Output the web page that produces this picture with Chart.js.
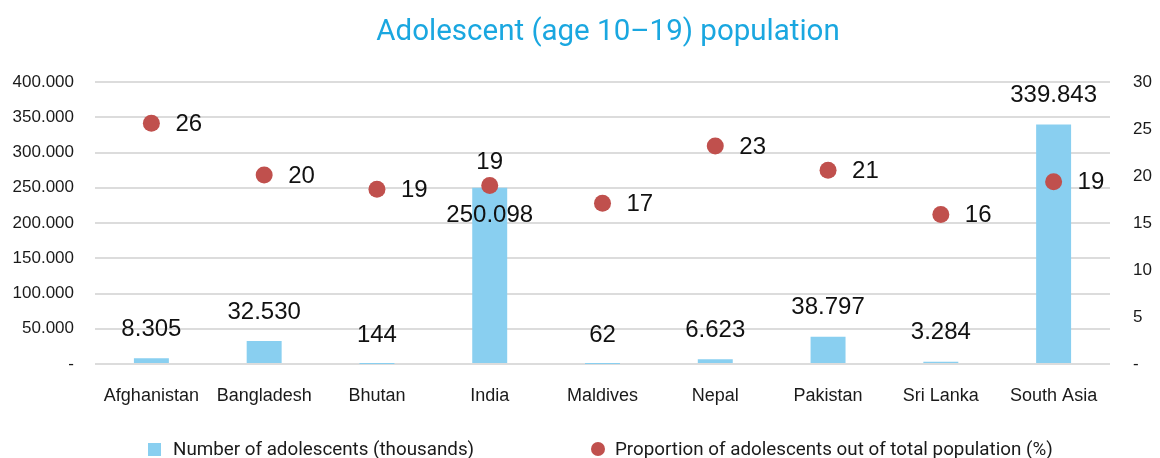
<!DOCTYPE html>
<html>
<head>
<meta charset="utf-8">
<script src="https://cdn.jsdelivr.net/npm/chart.js@4.4.0/dist/chart.umd.min.js"></script>
<style>
  body { margin: 0; background: #fff; }
  #wrap { position: relative; width: 1160px; height: 458px; overflow: hidden; }
  #title {
    position: absolute; left: 358px; top: 13px; width: 500px; text-align: center;
    font-family: Roboto, "Liberation Sans", sans-serif; font-size: 29.5px; color: #1aa7e0;
    white-space: nowrap;
  }
  .leg {
    position: absolute; top: 438px; font-family: Roboto, sans-serif;
    font-size: 18.8px; color: #1a1a1a; white-space: nowrap;
  }
  .leg i { position: absolute; display: block; }
</style>
</head>
<body>
<div id="wrap">
  <canvas id="chart" width="1160" height="458"></canvas>
  <div id="title">Adolescent (age 10–19) population</div>
  <div class="leg" style="left:173px">Number of adolescents (thousands)</div>
  <div class="leg" style="left:615px">Proportion of adolescents out of total population (%)</div>
</div>
<script>
var countries = ['Afghanistan', 'Bangladesh', 'Bhutan', 'India', 'Maldives', 'Nepal', 'Pakistan', 'Sri Lanka', 'South Asia'];
var adolescents = [8305, 32530, 144, 250098, 62, 6623, 38797, 3284, 339843];
var proportion = [25.6, 20.1, 18.6, 19.0, 17.1, 23.2, 20.6, 15.9, 19.4];
var leftTicks = ['-', '50.000', '100.000', '150.000', '200.000', '250.000', '300.000', '350.000', '400.000'];
var rightTicks = ['-', '5', '10', '15', '20', '25', '30'];

var barColor = '#89cff0';
var dotColor = '#c0504d';

function dots(n) {
    return String(n).replace(/\B(?=(\d{3})+(?!\d))/g, '.');
}

// legend markers
document.querySelectorAll('.leg').forEach(function (el, i) {
    var m = document.createElement('i');
    if (i === 0) {
        m.style.cssText = 'left:-25px;top:5px;width:13px;height:13px;background:' + barColor;
    } else {
        m.style.cssText = 'left:-24px;top:4px;width:14px;height:14px;border-radius:50%;background:' + dotColor;
    }
    el.appendChild(m);
});

var valueLabels = {
    id: 'valueLabels',
    afterDatasetsDraw: function (chart) {
        var ctx = chart.ctx;
        var bars = chart.getDatasetMeta(0).data;
        var pts = chart.getDatasetMeta(1).data;
        ctx.save();
        ctx.fillStyle = '#111';
        ctx.font = '24px "Liberation Sans", Arial, sans-serif';
        ctx.textBaseline = 'middle';
        bars.forEach(function (b, i) {
            var p = pts[i];
            // when the dot sits on the bar top, put the bar label inside and the dot label above
            var clash = Math.abs(p.y - b.y) < 30;
            ctx.textAlign = 'center';
            ctx.fillText(dots(adolescents[i]), b.x, clash ? b.y + 28 : b.y - 29);
            if (clash) {
                ctx.fillText(Math.round(proportion[i]), p.x, p.y - 23);
            } else {
                ctx.textAlign = 'left';
                ctx.fillText(Math.round(proportion[i]), p.x + 24, p.y + 1);
            }
        });
        ctx.restore();
    }
};

new Chart(document.getElementById('chart'), {
    type: 'bar',
    data: {
        labels: countries,
        datasets: [{
            label: 'Number of adolescents (thousands)',
            data: adolescents,
            backgroundColor: barColor,
            barPercentage: 0.31,
            categoryPercentage: 1,
            yAxisID: 'y',
            order: 2
        }, {
            type: 'line',
            label: 'Proportion of adolescents out of total population (%)',
            data: proportion,
            showLine: false,
            pointRadius: 8.5,
            pointHoverRadius: 8.5,
            pointBackgroundColor: dotColor,
            pointBorderWidth: 0,
            yAxisID: 'y1',
            order: 1
        }]
    },
    options: {
        responsive: false,
        animation: false,
        layout: { padding: { top: 82, bottom: 40, left: 0, right: 0 } },
        plugins: {
            legend: { display: false },
            title: { display: false },
            tooltip: { enabled: false }
        },
        scales: {
            x: {
                grid: { display: false },
                border: { display: false },
                ticks: {
                    color: '#1a1a1a',
                    font: { family: '"Liberation Sans", Arial, sans-serif', size: 18 },
                    padding: 13,
                    maxRotation: 0
                },
                afterFit: function (s) { s.height = 54; }
            },
            y: {
                position: 'left',
                min: 0,
                max: 400000,
                grid: { color: '#dcdcdc', lineWidth: 2, drawTicks: false },
                border: { display: false },
                ticks: {
                    stepSize: 50000,
                    padding: 21,
                    color: '#1a1a1a',
                    font: { family: '"Liberation Sans", Arial, sans-serif', size: 17 },
                    callback: function (v, i) { return leftTicks[i]; }
                },
                afterFit: function (s) { s.width = 95; }
            },
            y1: {
                position: 'right',
                min: 0,
                max: 30,
                grid: { display: false, drawTicks: false },
                border: { display: false },
                ticks: {
                    stepSize: 5,
                    padding: 23,
                    color: '#1a1a1a',
                    font: { family: '"Liberation Sans", Arial, sans-serif', size: 17 },
                    callback: function (v, i) { return rightTicks[i]; }
                },
                afterFit: function (s) { s.width = 50; }
            }
        }
    },
    plugins: [valueLabels]
});
</script>
</body>
</html>
